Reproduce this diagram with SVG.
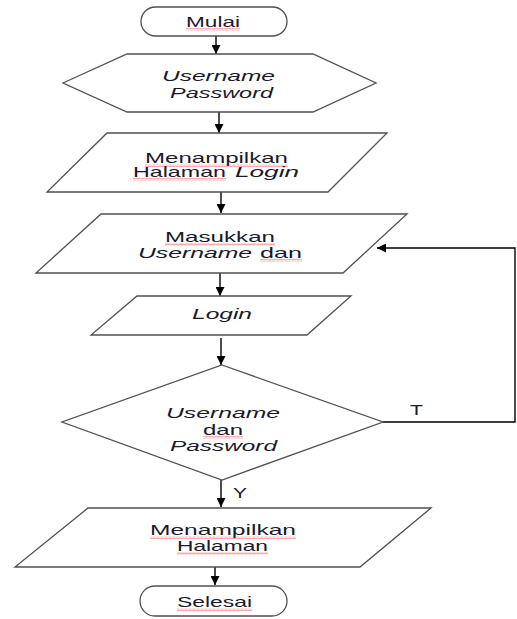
<svg xmlns="http://www.w3.org/2000/svg" width="517" height="619" viewBox="0 0 517 619">
  <style>
    .shape { fill: #ffffff; stroke: #505050; stroke-width: 1.3; }
    .conn { fill: none; stroke: #000000; stroke-width: 1.4; }
    .lbl { font-family: "Liberation Sans", Arial, sans-serif; font-size: 14.5px; fill: #1a1a2a; }
    .it { font-style: italic; }
    .sq { fill: url(#squiggle); opacity: 0.65; }
  </style>
  <defs>
    <marker id="arrow" markerUnits="userSpaceOnUse" markerWidth="9" markerHeight="9" refX="9" refY="4.5" orient="auto">
      <path d="M0,0 L9,4.5 L0,9 z" fill="#000000"/>
    </marker>
    <pattern id="squiggle" patternUnits="userSpaceOnUse" width="4" height="3">
      <path d="M0,2.5 L1,0.5 L2,2.5 L3,0.5 L4,2.5" fill="none" stroke="#e03030" stroke-width="0.6"/>
    </pattern>
  </defs>

  <!-- connectors -->
  <g id="connectors">
    <line class="conn" x1="216" y1="36" x2="216" y2="54" marker-end="url(#arrow)"/>
    <line class="conn" x1="219" y1="112" x2="219" y2="133" marker-end="url(#arrow)"/>
    <line class="conn" x1="221" y1="192" x2="221" y2="213" marker-end="url(#arrow)"/>
    <line class="conn" x1="220" y1="273" x2="220" y2="296" marker-end="url(#arrow)"/>
    <line class="conn" x1="221" y1="338" x2="221" y2="365" marker-end="url(#arrow)"/>
    <line class="conn" x1="221" y1="480" x2="221" y2="507" marker-end="url(#arrow)"/>
    <line class="conn" x1="215" y1="567" x2="215" y2="585" marker-end="url(#arrow)"/>
    <polyline class="conn" points="383,422 515,422 515,248 377,248" stroke="#303030" stroke-width="1.2" marker-end="url(#arrow)"/>
    <text class="lbl" x="410" y="415" textLength="13" lengthAdjust="spacingAndGlyphs">T</text>
    <text class="lbl" x="233" y="498" textLength="14" lengthAdjust="spacingAndGlyphs">Y</text>
  </g>

  <!-- start -->
  <g id="mulai">
    <rect class="shape" x="141" y="7" width="146" height="29" rx="14.5" ry="14.5"/>
    <text class="lbl" x="186" y="27" textLength="54" lengthAdjust="spacingAndGlyphs">Mulai</text>
    <rect class="sq" x="186" y="28" width="54" height="3"/>
  </g>

  <!-- credentials preparation -->
  <g id="credentials">
    <polygon class="shape" points="63,83 127,54 313,54 376,83 313,112 127,112"/>
    <text class="lbl it" x="162" y="81" textLength="113" lengthAdjust="spacingAndGlyphs">Username</text>
    <text class="lbl it" x="170" y="98" textLength="103" lengthAdjust="spacingAndGlyphs">Password</text>
  </g>

  <!-- show login page -->
  <g id="show-login">
    <polygon class="shape" points="107,133 387,133 328,192 47,192"/>
    <text class="lbl" x="145" y="163" textLength="143" lengthAdjust="spacingAndGlyphs">Menampilkan</text>
    <rect class="sq" x="145" y="164" width="143" height="3"/>
    <text class="lbl" x="133" y="177" textLength="93" lengthAdjust="spacingAndGlyphs">Halaman</text>
    <rect class="sq" x="133" y="178" width="93" height="3"/>
    <text class="lbl it" x="235" y="177" textLength="64" lengthAdjust="spacingAndGlyphs">Login</text>
  </g>

  <!-- enter credentials -->
  <g id="input">
    <polygon class="shape" points="101,214 407,214 343,273 36,273"/>
    <text class="lbl" x="165" y="242" textLength="110" lengthAdjust="spacingAndGlyphs">Masukkan</text>
    <rect class="sq" x="165" y="243" width="110" height="3"/>
    <text class="lbl it" x="138" y="258" textLength="114" lengthAdjust="spacingAndGlyphs">Username</text>
    <text class="lbl" x="260" y="258" textLength="42" lengthAdjust="spacingAndGlyphs">dan</text>
    <rect class="sq" x="260" y="259" width="42" height="3"/>
  </g>

  <!-- login -->
  <g id="login">
    <polygon class="shape" points="137,296 351,296 307,335 91,335"/>
    <text class="lbl it" x="192" y="319" textLength="60" lengthAdjust="spacingAndGlyphs">Login</text>
  </g>

  <!-- check credentials -->
  <g id="check">
    <polygon class="shape" points="222,365 383,422 222,480 62,422"/>
    <text class="lbl it" x="166" y="418" textLength="114" lengthAdjust="spacingAndGlyphs">Username</text>
    <text class="lbl" x="203" y="435" textLength="40" lengthAdjust="spacingAndGlyphs">dan</text>
    <rect class="sq" x="203" y="436" width="40" height="3"/>
    <text class="lbl it" x="170" y="451" textLength="107" lengthAdjust="spacingAndGlyphs">Password</text>
  </g>

  <!-- show page -->
  <g id="show-page">
    <polygon class="shape" points="88,508 431,508 360,567 15,567"/>
    <text class="lbl" x="150" y="535" textLength="146" lengthAdjust="spacingAndGlyphs">Menampilkan</text>
    <rect class="sq" x="150" y="536" width="146" height="3"/>
    <text class="lbl" x="177" y="551" textLength="91" lengthAdjust="spacingAndGlyphs">Halaman</text>
    <rect class="sq" x="177" y="552" width="91" height="3"/>
  </g>

  <!-- end -->
  <g id="selesai">
    <rect class="shape" x="140" y="586" width="147" height="30" rx="15" ry="15"/>
    <text class="lbl" x="177" y="607" textLength="75" lengthAdjust="spacingAndGlyphs">Selesai</text>
    <rect class="sq" x="177" y="608" width="75" height="3"/>
  </g>
</svg>
